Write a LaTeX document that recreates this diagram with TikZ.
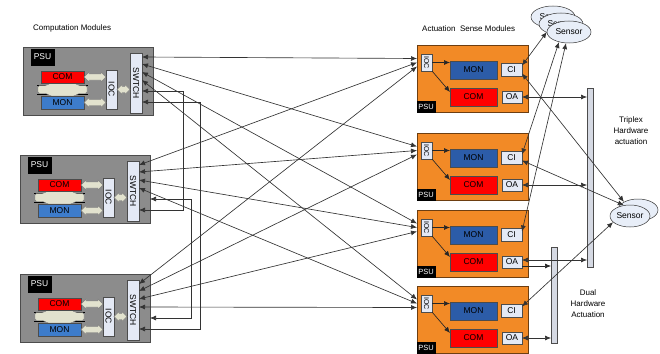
\documentclass[tikz,border=0pt]{standalone}
\usepackage{graphicx}
\usepackage{fontspec}
\setmainfont{Liberation Sans}
\usetikzlibrary{arrows.meta,positioning,calc,shapes.geometric}
\definecolor{cmgray}{HTML}{8C8C8C}
\definecolor{cmred}{HTML}{FF0000}
\definecolor{cmblue}{HTML}{3D7CCB}
\definecolor{asblue}{HTML}{2C5CA8}
\definecolor{asorange}{HTML}{F28A26}
\definecolor{iolav}{HTML}{E4E9F5}
\definecolor{senfill}{HTML}{E8EEF8}
\definecolor{busbeige}{HTML}{E2E2CE}
\tikzset{
  box/.style={draw=black!75, line width=0.5pt, inner sep=0pt, outer sep=0pt},
  cmod/.style={box, anchor=north west, fill=cmgray, draw=black!70, minimum width=130pt, minimum height=68pt},
  amod/.style={box, anchor=north west, fill=asorange, draw=asorange!45!black, minimum width=111pt, minimum height=67pt},
  psu/.style={box, fill=black, text=white, draw=black},
  com/.style={box, fill=cmred, draw=black!70},
  cmon/.style={box, fill=cmblue, draw=black!70},
  amon/.style={box, fill=asblue, draw=black!70},
  lav/.style={box, fill=iolav, draw=black!70},
  bar/.style={box, fill=iolav!85!gray, draw=black!70},
  sensor/.style={ellipse, draw=black!80, fill=senfill, line width=0.5pt, inner sep=0pt,
    minimum width=44pt, minimum height=22pt},
  busfill/.style={fill=busbeige, draw=black!50, line width=0.4pt},
  busline/.style={draw=black, line width=0.6pt},
  link/.style={{Latex[length=6pt,width=5pt]}-{Latex[length=6pt,width=5pt]}, line width=0.65pt, draw=black!80},
  flow/.style={-{Latex[length=6pt,width=5pt]}, line width=0.65pt, draw=black!85},
  lbl/.style={font=\fontsize{8}{11}\selectfont, inner sep=0pt},
}
\begin{document}
\begin{tikzpicture}[x=1pt, y=-1pt, font=\fontsize{8.5}{9.6}\selectfont]
\useasboundingbox (0,0) rectangle (660,353);

% computation modules
\foreach \i/\x/\y in {1/23/47, 2/20/155, 3/20/274}{
  \node[cmod] (c\i) at (\x,\y) {};
  \node[psu, minimum width=23pt, minimum height=16pt] (c\i-psu) at ([shift={(19.5,10)}]c\i.north west) {PSU};
  \draw[busline] ([shift={(14,38)}]c\i.north west) -- ++(51,0) ([shift={(14,47)}]c\i.north west) -- ++(51,0);
  \draw[busfill, rounded corners=1.5pt] ([shift={(27,36)}]c\i.north west) -- ++(25,0) -- ++(3,2.5) -- ++(9,0)
    -- ++(0,8) -- ++(-9,0) -- ++(-3,2.5) -- ++(-25,0) -- ++(-3,-2.5) -- ++(-9,0) -- ++(0,-8) -- ++(9,0) -- cycle;
  \node[com, minimum width=43pt, minimum height=12pt] (c\i-com) at ([shift={(39.5,30)}]c\i.north west) {COM};
  \node[cmon, minimum width=43pt, minimum height=13pt] (c\i-mon) at ([shift={(39.5,55.5)}]c\i.north west) {MON};
  \node[lav, minimum width=11pt, minimum height=39pt] (c\i-ioc) at ([shift={(88.5,42.5)}]c\i.north west) {\rotatebox{-90}{IOC}};
  \node[lav, minimum width=12pt, minimum height=60pt] (c\i-sw) at ([shift={(113,36)}]c\i.north west) {\rotatebox{-90}{SWTCH}};
  \foreach \px/\py/\len in {61/30/12, 61/55.5/12, 94/42.5/3}
    \draw[busfill] ([shift={(\px,\py)}]c\i.north west) -- ++(5,-5) -- ++(0,2) -- ++(\len,0) -- ++(0,-2) -- ++(5,5)
      -- ++(-5,5) -- ++(0,-2) -- ++(-\len,0) -- ++(0,2) -- cycle;
}

% actuation sense modules
\foreach \j/\y in {1/45, 2/133, 3/210, 4/286}{
  \node[amod] (a\j) at (417,\y) {};
  \node[lav, minimum width=11pt, minimum height=17pt, font=\fontsize{7}{8}\selectfont] (a\j-ioc) at ([shift={(9.5,17.5)}]a\j.north west) {\rotatebox{-90}{IOC}};
  \node[amon, minimum width=47pt, minimum height=18pt] (a\j-mon) at ([shift={(56.5,25)}]a\j.north west) {MON};
  \node[com, minimum width=47pt, minimum height=18pt] (a\j-com) at ([shift={(56.5,52)}]a\j.north west) {COM};
  \node[lav, minimum width=21pt, minimum height=13pt] (a\j-ci) at ([shift={(94.5,24.5)}]a\j.north west) {CI};
  \node[lav, minimum width=20pt, minimum height=12pt] (a\j-oa) at ([shift={(95,52)}]a\j.north west) {OA};
  \node[psu, minimum width=18pt, minimum height=11pt, anchor=south west, font=\fontsize{7.5}{8}\selectfont] (a\j-psu) at (a\j.south west) {PSU};
  \draw[flow] (a\j-ioc.east) -- (a\j-ioc.east -| a\j-mon.west);
  \draw[flow] (a\j-ioc.south east) -- ([yshift=-4pt]a\j-com.north west);
}

% ports
\foreach \i in {1,2,3}
  \foreach \k/\d in {1/10,2/17,3/25,4/33,5/44,6/55}
    \coordinate (c\i-p\k) at ([shift={(119,\d)}]c\i.north west);
\foreach \j in {1,...,4}
  \foreach \k/\d in {u/13.5,m/17.5,d/21.5}
    \coordinate (a\j-\k) at ([shift={(0,\d)}]a\j.north west);

% switch to IOC links
\foreach \i/\s in {1/u,2/m,3/d}
  \foreach \j in {1,...,4}
    \draw[link] (c\i-p\j) -- (a\j-\s);
\draw[link] (c1-p5) -- ++(41,0) |- (c2-p6);
\draw[link] (c1-p6) -- ++(58,0) |- (c3-p6);
\draw[link, shorten <=11pt, shorten >=11pt] (c2-p5) -- ++(52,0) |- (c3-p5);

% actuation bars
\node[bar, minimum width=6pt, minimum height=179pt] (trip) at (590,177.5) {};
\node[bar, minimum width=6pt, minimum height=96pt] (dual) at (554,295) {};
\coordinate (a3-oaup) at ([yshift=2pt]a3-oa.east);
\coordinate (a3-oadn) at ([yshift=-4pt]a3-oa.east);
\draw[link] (a1-oa.east) -- (a1-oa.east -| trip.west);
\draw[link] (a2-oa.east) -- (a2-oa.east -| trip.west);
\draw[link] (a3-oaup) -- (a3-oaup -| trip.west);
\draw[flow] (a3-oadn) -- (a3-oadn -| dual.west);
\draw[link] (a4-oa.east) -- (a4-oa.east -| dual.west);

% sensors
\node[sensor] (s3) at (553,17) {Sensor};
\node[sensor] (s2) at (561,24) {Sensor};
\node[sensor] (s1) at (569,32) {Sensor};
\node[sensor, minimum width=40pt] (r2) at (638,210) {};
\node[sensor, minimum width=40pt] (r1) at (630,216) {Sensor};
\draw[link] ([yshift=4pt]a1-ci.east) -- (s1.west);
\draw[link] ([yshift=-4pt]a1-ci.east) -- (r2.150);
\draw[link] ([yshift=3pt]a2-ci.east) -- (s1.225);
\draw[link] ([yshift=-3pt]a2-ci.east) -- (r1.120);
\draw[link] ([yshift=3pt]a3-ci.east) -- (s1.255);
\draw[link] ([yshift=4pt]a4-ci.east) -- (r1.200);

% labels
\node[lbl, anchor=west] (tcm) at (33,28) {Computation Modules};
\node[lbl, anchor=west] (tas) at (422,29) {Actuation\ \ Sense Modules};
\node[lbl, align=center] (ttr) at (631,131) {Triplex\\Hardware\\actuation};
\node[lbl, align=center] (tdu) at (588,304) {Dual\\Hardware\\Actuation};
\end{tikzpicture}
\end{document}
